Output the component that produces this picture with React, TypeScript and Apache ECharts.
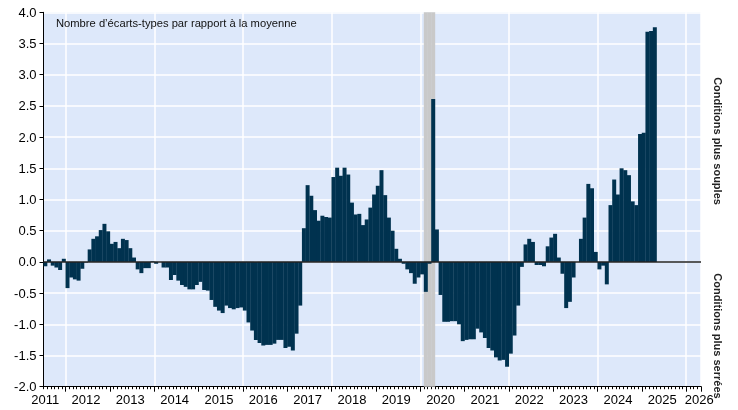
import React, { useEffect, useRef } from "react";
import * as echarts from "echarts";

// Monthly values (standard deviations from the mean), Jul 2011 – Apr 2025
const v2011 = [-0.07, 0.04, -0.06, -0.09, -0.13, 0.05];
const v2012 = [-0.42, -0.25, -0.28, -0.3, -0.11, -0.01, 0.2, 0.37, 0.41, 0.51, 0.61, 0.49];
const v2013 = [0.29, 0.32, 0.22, 0.37, 0.35, 0.22, 0.07, -0.12, -0.18, -0.1, -0.1, 0.01];
const v2014 = [-0.03, 0.0, -0.09, -0.09, -0.29, -0.21, -0.3, -0.37, -0.4, -0.44, -0.44, -0.37];
const v2015 = [-0.32, -0.45, -0.46, -0.61, -0.72, -0.78, -0.82, -0.7, -0.74, -0.76, -0.74, -0.73];
const v2016 = [-0.78, -0.97, -1.1, -1.25, -1.3, -1.34, -1.33, -1.33, -1.31, -1.25, -1.25, -1.38];
const v2017 = [-1.36, -1.42, -1.15, -0.7, 0.54, 1.23, 1.06, 0.83, 0.66, 0.74, 0.72, 0.71];
const v2018 = [1.36, 1.51, 1.38, 1.51, 1.4, 0.95, 0.76, 0.77, 0.59, 0.68, 0.87, 1.08];
const v2019 = [1.22, 1.47, 1.07, 0.71, 0.5, 0.21, 0.05, -0.03, -0.12, -0.18, -0.35, -0.25];
const v2020 = [-0.2, -0.48, -0.03, 2.61, 0.52, -0.53, -0.96, -0.96, -0.95, -0.95, -1.0, -1.27];
const v2021 = [-1.25, -1.24, -1.24, -1.07, -1.13, -1.22, -1.38, -1.42, -1.53, -1.58, -1.57, -1.68];
const v2022 = [-1.47, -1.18, -0.7, -0.08, 0.28, 0.37, 0.32, -0.05, -0.05, -0.07, 0.25, 0.39];
const v2023 = [0.45, 0.07, -0.19, -0.74, -0.64, -0.25, 0.0, 0.37, 0.71, 1.25, 1.18, 0.16];
const v2024 = [-0.12, -0.06, -0.36, 0.91, 1.32, 1.08, 1.5, 1.47, 1.39, 0.97, 0.91, 2.05];
const v2025 = [2.07, 3.69, 3.7, 3.76];

const values = [
  ...v2011, ...v2012, ...v2013, ...v2014, ...v2015, ...v2016, ...v2017, ...v2018,
  ...v2019, ...v2020, ...v2021, ...v2022, ...v2023, ...v2024, ...v2025,
];

// Axis range: Jul 2011 – Apr 2026 (monthly categories)
const axisStart = { year: 2011, month: 7 };
const axisEnd = { year: 2026, month: 4 };
const months: string[] = [];
for (let y = axisStart.year, m = axisStart.month; y < axisEnd.year || (y === axisEnd.year && m <= axisEnd.month); ) {
  months.push(`${y}-${String(m).padStart(2, "0")}`);
  m++;
  if (m > 12) { m = 1; y++; }
}

// Recession shading (Feb–Apr 2020)
const recessionMonths = ["2020-02", "2020-03", "2020-04"];

const yMin = -2;
const yMax = 4;
const yStep = 0.5;

const titleText = "Nombre d’écarts-types par rapport à la moyenne";
const upperNote = "Conditions plus souples";
const lowerNote = "Conditions plus serrées";

const FONT = "'Liberation Sans', Arial, sans-serif";
const BAR = "#00324f";

export default function App() {
  const ref = useRef<HTMLDivElement>(null);
  useEffect(() => {
    if (!ref.current) return;
    const chart = echarts.init(ref.current, undefined, { renderer: "svg" });
    const recTop = months.map((m) => (recessionMonths.includes(m) ? yMax : null));
    const recBottom = months.map((m) => (recessionMonths.includes(m) ? yMin : null));
    const lastIdx = months.length - 1;
    chart.setOption({
      animation: false,
      textStyle: { fontFamily: FONT },
      grid: {
        left: 43.5,
        right: 37,
        top: 12.3,
        bottom: 23.3,
        show: true,
        backgroundColor: "#dde8fa",
        borderWidth: 0,
      },
      xAxis: [
        {
          type: "category",
          data: months,
          boundaryGap: true,
          position: "bottom",
          axisLine: { show: true, onZero: false, lineStyle: { color: "#000", width: 1 } },
          axisTick: { show: true, interval: 0, length: 2.5, lineStyle: { color: "#000", width: 1 } },
          axisLabel: {
            show: true,
            interval: (i: number, v: string) => v.endsWith("-06") || i === 0 || i === lastIdx,
            formatter: (v: string) => v.slice(0, 4),
            fontSize: 13,
            color: "#000",
            fontFamily: FONT,
            margin: 6,
          },
          splitLine: {
            show: true,
            interval: (_i: number, v: string) => v.endsWith("-01") && Number(v.slice(0, 4)) % 2 === 0,
            lineStyle: { color: "#ffffff", width: 1.5 },
          },
        },
        {
          type: "category",
          data: months,
          boundaryGap: true,
          position: "bottom",
          axisLine: { show: false, onZero: false },
          axisTick: {
            show: true,
            interval: (_i: number, v: string) => v.endsWith("-01"),
            length: 5,
            lineStyle: { color: "#000", width: 1 },
          },
          axisLabel: { show: false },
          splitLine: { show: false },
        },
      ],
      yAxis: {
        type: "value",
        min: yMin,
        max: yMax,
        interval: yStep,
        axisLine: { show: true, lineStyle: { color: "#000", width: 1 } },
        axisTick: { show: true, length: 4, lineStyle: { color: "#000" } },
        axisLabel: {
          formatter: (v: number) => v.toFixed(1),
          fontSize: 13,
          color: "#000",
          fontFamily: FONT,
          margin: 7,
        },
        splitLine: { show: true, lineStyle: { color: "#ffffff", width: 1.5 } },
      },
      series: [
        {
          type: "bar",
          name: "recTop",
          data: recTop,
          barWidth: "108%",
          barGap: "-100%",
          itemStyle: { color: "#c9c9c9" },
          silent: true,
          z: 1,
        },
        {
          type: "bar",
          name: "recBottom",
          data: recBottom,
          barWidth: "108%",
          barGap: "-100%",
          itemStyle: { color: "#c9c9c9" },
          silent: true,
          z: 1,
        },
        {
          type: "bar",
          name: "index",
          data: values,
          barWidth: "108%",
          barGap: "-100%",
          itemStyle: { color: BAR },
          z: 3,
          markLine: {
            silent: true,
            symbol: "none",
            label: { show: false },
            lineStyle: { color: "#222", width: 1.5, type: "solid" },
            data: [{ yAxis: 0 }],
          },
        },
      ],
      graphic: [
        {
          type: "text",
          left: 56,
          top: 17,
          z: 100,
          style: { text: titleText, font: `11.2px ${FONT}`, fill: "#111" },
        },
        {
          type: "text",
          x: 718,
          y: 141,
          z: 100,
          rotation: -Math.PI / 2,
          style: {
            text: upperNote,
            font: `bold 11px ${FONT}`,
            fill: "#222",
            align: "center",
            verticalAlign: "middle",
          },
        },
        {
          type: "text",
          x: 718,
          y: 336,
          z: 100,
          rotation: -Math.PI / 2,
          style: {
            text: lowerNote,
            font: `bold 11px ${FONT}`,
            fill: "#222",
            align: "center",
            verticalAlign: "middle",
          },
        },
      ],
    });
    return () => chart.dispose();
  }, []);
  return <div ref={ref} style={{ width: 738, height: 410, position: "fixed", left: 0, top: 0 }} />;
}
